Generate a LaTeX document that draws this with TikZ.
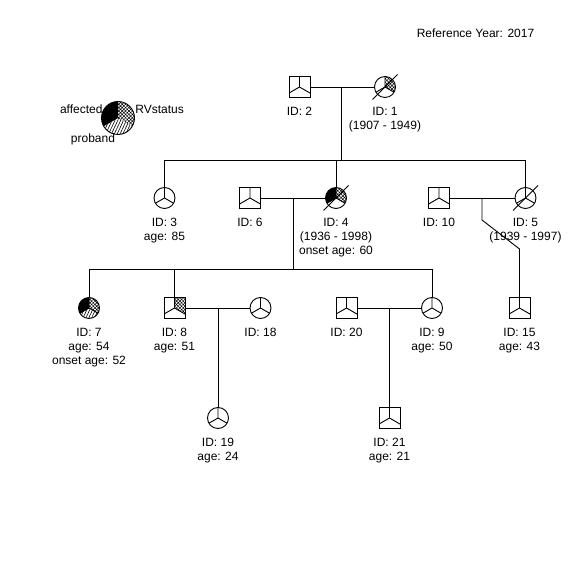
\documentclass[tikz,border=0pt]{standalone}
\usepackage{fontspec}
\setmainfont{Liberation Sans}
\usetikzlibrary{positioning, patterns.meta, backgrounds}

\begin{document}
\begin{tikzpicture}[x=1pt, y=1pt, line width=0.9pt,
  male/.style={rectangle, draw, minimum size=21pt, inner sep=0pt,
    path picture={\draw (path picture bounding box.center) -- ++(90:12pt)
      (path picture bounding box.center) -- ++(210:16pt)
      (path picture bounding box.center) -- ++(330:16pt);}},
  female/.style={male, circle},
  lbl/.style={font=\fontsize{12}{14.4}\selectfont, align=center, inner sep=0pt},
  affected/.style={fill=black},
  rvstatus/.style={pattern={Hatch[angle=45, distance=2.4pt, line width=0.5pt]}},
  proband/.style={pattern={Lines[angle=65, distance=2.6pt, line width=0.6pt]}}
]
  \useasboundingbox (0,0) rectangle (576,576);

  \node[lbl] (year) at (475.5,543) {Reference Year: 2017};

  % legend
  \node[circle, draw, minimum size=33pt, inner sep=0pt] (key) at (118,458) {};
  \node[lbl, anchor=east] (kaff) at (103,467) {affected};
  \node[lbl, anchor=west] (krv) at (135,467) {RVstatus};
  \node[lbl] (kpro) at (93,437) {proband};

  % generation 1
  \node[male] (ID2) at (299.5,489) {};
  \node[female] (ID1) at (385,489) {};
  \node[lbl, below=8.5pt of ID2] (l2) {ID: 2};
  \node[lbl, below=8.5pt of ID1] (l1) {ID: 1\\(1907 - 1949)};

  % generation 2
  \node[female] (ID3) at (164.5,378) {};
  \node[male] (ID6) at (250,378) {};
  \node[female] (ID4) at (336,378) {};
  \node[male] (ID10) at (439,378) {};
  \node[female] (ID5) at (525.5,378) {};
  \node[lbl, below=8.5pt of ID3] (l3) {ID: 3\\age: 85};
  \node[lbl, below=8.5pt of ID6] (l6) {ID: 6};
  \node[lbl, below=8.5pt of ID4] (l4) {ID: 4\\(1936 - 1998)\\onset age: 60};
  \node[lbl, below=8.5pt of ID10] (l10) {ID: 10};
  \node[lbl, below=8.5pt of ID5] (l5) {ID: 5\\(1939 - 1997)};

  % generation 3
  \node[female] (ID7) at (89,268) {};
  \node[male] (ID8) at (174.5,268) {};
  \node[female] (ID18) at (260.5,268) {};
  \node[male] (ID20) at (346.5,268) {};
  \node[female] (ID9) at (432,268) {};
  \node[male] (ID15) at (519.5,268) {};
  \node[lbl, below=8.5pt of ID7] (l7) {ID: 7\\age: 54\\onset age: 52};
  \node[lbl, below=8.5pt of ID8] (l8) {ID: 8\\age: 51};
  \node[lbl, below=8.5pt of ID18] (l18) {ID: 18};
  \node[lbl, below=8.5pt of ID20] (l20) {ID: 20};
  \node[lbl, below=8.5pt of ID9] (l9) {ID: 9\\age: 50};
  \node[lbl, below=8.5pt of ID15] (l15) {ID: 15\\age: 43};

  % generation 4
  \node[female] (ID19) at (218,158) {};
  \node[male] (ID21) at (389.5,158) {};
  \node[lbl, below=8.5pt of ID19] (l19) {ID: 19\\age: 24};
  \node[lbl, below=8.5pt of ID21] (l21) {ID: 21\\age: 21};

  % marriages and descent
  \coordinate (m21) at (341.5,489);
  \coordinate (s1) at (341.5,416);
  \draw (ID2) -- (ID1);
  \draw (m21) -- (s1);
  \draw (ID3) -- (ID3 |- s1) -- (ID5 |- s1) -- (ID5);
  \draw (ID4) -- (ID4 |- s1);

  \coordinate (m64) at (293,378);
  \coordinate (s2) at (293,307);
  \draw (ID6) -- (ID4);
  \draw (m64) -- (s2);
  \draw (ID7) -- (ID7 |- s2) -- (ID9 |- s2) -- (ID9);
  \draw (ID8) -- (ID8 |- s2);

  \coordinate (m105) at (482,378);
  \coordinate (b105) at (482,356);
  \coordinate (k15) at (519.5,327);
  \draw (ID10) -- (ID5);
  \draw (m105) -- (b105) -- (k15) -- (ID15);

  \coordinate (m818) at (218,268);
  \draw (ID8) -- (ID18);
  \draw (m818) -- (ID19);

  \coordinate (m209) at (389.5,268);
  \draw (ID20) -- (ID9);
  \draw (m209) -- (ID21);

  % deceased
  \foreach \n in {ID1,ID4,ID5}
    \draw ([shift={(-12.5,-12.5)}]\n.center) -- ([shift={(12.5,12.5)}]\n.center);

  % status fills
  \begin{scope}[on background layer]
    \foreach \n in {ID4,ID7}
      \fill[affected] (\n.center) -- ++(90:10.5pt) arc[start angle=90, end angle=210, radius=10.5pt] -- cycle;
    \foreach \n in {ID1,ID4,ID7}
      \fill[rvstatus] (\n.center) -- ++(-30:10.5pt) arc[start angle=-30, end angle=90, radius=10.5pt] -- cycle;
    \fill[proband] (ID7.center) -- ++(210:10.5pt) arc[start angle=210, end angle=330, radius=10.5pt] -- cycle;
    \fill[rvstatus] (ID8.center) -- ++(0,10.5) -- ++(10.5,0) -- ++(0,-16.56) -- cycle;
    \fill[affected] (key.center) -- ++(90:16.5pt) arc[start angle=90, end angle=210, radius=16.5pt] -- cycle;
    \fill[rvstatus] (key.center) -- ++(-30:16.5pt) arc[start angle=-30, end angle=90, radius=16.5pt] -- cycle;
    \fill[proband] (key.center) -- ++(210:16.5pt) arc[start angle=210, end angle=330, radius=16.5pt] -- cycle;
  \end{scope}
\end{tikzpicture}
\end{document}
